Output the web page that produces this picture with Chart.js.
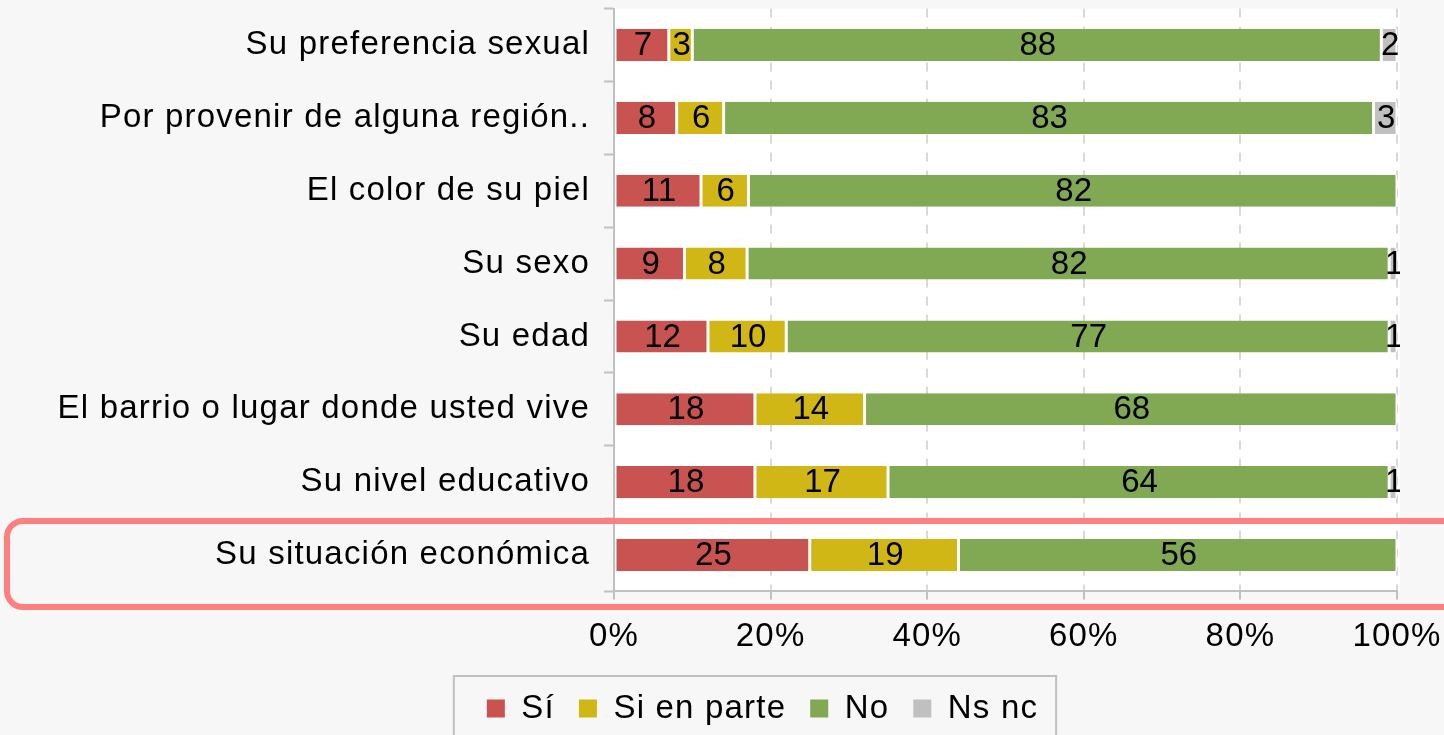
<!DOCTYPE html>
<html>
<head>
<meta charset="utf-8">
<script src="https://cdn.jsdelivr.net/npm/chart.js@4/dist/chart.umd.min.js"></script>
<style>
  html, body { margin: 0; padding: 0; background: #f7f7f7; }
  canvas { display: block; }
</style>
</head>
<body>
<canvas id="chart" width="1444" height="735"></canvas>
<script>
// data
var categories = [
  "Su preferencia sexual",
  "Por provenir de alguna región..",
  "El color de su piel",
  "Su sexo",
  "Su edad",
  "El barrio o lugar donde usted vive",
  "Su nivel educativo",
  "Su situación económica"
];
var seriesNames = ["Sí", "Si en parte", "No", "Ns nc"];
var si        = [7, 8, 11, 9, 12, 18, 18, 25];
var siEnParte = [3, 6, 6, 8, 10, 14, 17, 19];
var no        = [88, 83, 82, 82, 77, 68, 64, 56];
var nsnc      = [2, 3, 0, 1, 1, 0, 1, 0];
var xTicks = [0, 20, 40, 60, 80, 100];

var colors = ['#c95350', '#d1b716', '#81a852', '#c0c0c0'];
var FONT = '"Liberation Sans", Arial, sans-serif';
var FSIZE = 33;
var SPACING = '1.2px';

// 100% stacked: each row scaled to its own total
var series = [si, siEnParte, no, nsnc];
var totals = categories.map(function(c, j) {
  return si[j] + siEnParte[j] + no[j] + nsnc[j];
});

var datasets = series.map(function(vals, i) {
  return {
    label: seriesNames[i],
    data: vals.map(function(v, j) { return v / totals[j] * 100; }),
    rawValues: vals,
    backgroundColor: colors[i],
    borderColor: '#ffffff',
    borderWidth: { left: 1.5, right: 1.5, top: 0, bottom: 0 },
    borderSkipped: false,
    barPercentage: 0.44,
    categoryPercentage: 1
  };
});

var spacingPlugin = {
  id: 'spacing',
  beforeLayout: function(chart) { chart.ctx.letterSpacing = SPACING; },
  afterLayout: function(chart) {
    // legend sits a bit right of centre in the original
    chart.legend.left += 64;
    chart.legend.right += 64;
  },
  beforeDraw: function(chart) { chart.ctx.letterSpacing = SPACING; }
};

var backgroundPlugin = {
  id: 'bg',
  beforeDraw: function(chart) {
    var ctx = chart.ctx, a = chart.chartArea;
    ctx.save();
    ctx.fillStyle = '#f7f7f7';
    ctx.fillRect(0, 0, chart.width, chart.height);
    ctx.fillStyle = '#ffffff';
    ctx.fillRect(a.left, a.top, a.right - a.left + 3, a.bottom - a.top);
    ctx.restore();
  }
};

var segmentLabels = {
  id: 'segmentLabels',
  afterDatasetsDraw: function(chart) {
    var ctx = chart.ctx, a = chart.chartArea;
    ctx.save();
    ctx.beginPath();
    ctx.rect(a.left, a.top, a.right - a.left + 3, a.bottom - a.top);
    ctx.clip();
    ctx.letterSpacing = '0px';
    ctx.font = FSIZE + 'px ' + FONT;
    ctx.fillStyle = '#000';
    ctx.textAlign = 'center';
    ctx.textBaseline = 'middle';
    chart.data.datasets.forEach(function(ds, i) {
      chart.getDatasetMeta(i).data.forEach(function(bar, j) {
        var v = ds.rawValues[j];
        if (!v) return;
        ctx.fillText(String(v), (bar.x + bar.base) / 2 + 1, bar.y + 1);
      });
    });
    ctx.restore();
  }
};

var framePlugin = {
  id: 'frames',
  afterDraw: function(chart) {
    var ctx = chart.ctx;
    ctx.save();
    // legend frame
    var boxes = chart.legend.legendHitBoxes;
    if (boxes && boxes.length) {
      var l = Math.min.apply(null, boxes.map(function(b) { return b.left; }));
      var r = Math.max.apply(null, boxes.map(function(b) { return b.left + b.width; }));
      var t = boxes[0].top;
      ctx.strokeStyle = '#c0c0c0';
      ctx.lineWidth = 2;
      ctx.strokeRect(l - 33, t - 16, r - l + 51, 120);
    }
    // highlight around the last row
    var y = chart.scales.y.getPixelForValue(categories.length - 1);
    ctx.strokeStyle = '#ff7f7f';
    ctx.lineWidth = 6;
    ctx.beginPath();
    ctx.roundRect(7, y - 34, 1460, 86, 16);
    ctx.stroke();
    ctx.restore();
  }
};

new Chart(document.getElementById('chart'), {
  type: 'bar',
  data: { labels: categories, datasets: datasets },
  options: {
    indexAxis: 'y',
    responsive: false,
    animation: false,
    layout: { padding: { top: 8.6, right: 47, left: 0, bottom: 0 } },
    plugins: {
      tooltip: { enabled: false },
      legend: {
        position: 'bottom',
        labels: {
          color: '#000',
          font: { family: FONT, size: FSIZE },
          boxWidth: 18,
          boxHeight: 18,
          padding: 24,
          generateLabels: function(chart) {
            return chart.data.datasets.map(function(ds, i) {
              return { text: ds.label, fillStyle: ds.backgroundColor, strokeStyle: ds.backgroundColor,
                       lineWidth: 0, datasetIndex: i, hidden: false };
            });
          }
        }
      }
    },
    scales: {
      x: {
        stacked: true,
        min: 0,
        max: 100,
        afterBuildTicks: function(scale) {
          scale.ticks = xTicks.map(function(v) { return { value: v }; });
        },
        afterFit: function(scale) {
          scale.height = 76.6;
          scale.paddingLeft = 0;
          scale.paddingRight = 0;
        },
        ticks: {
          color: '#000',
          font: { family: FONT, size: FSIZE },
          padding: 18,
          maxRotation: 0,
          callback: function(v) { return v + '%'; }
        },
        grid: { color: '#d9d9d9', lineWidth: 2, tickColor: '#c0c0c0', tickLength: 8, tickWidth: 2, tickBorderDash: [] },
        border: { color: '#c0c0c0', width: 2, dash: [9, 9] }
      },
      y: {
        stacked: true,
        afterFit: function(scale) {
          scale.width = 614;
          scale.paddingTop = 0;
          scale.paddingBottom = 0;
        },
        ticks: {
          color: '#000',
          font: { family: FONT, size: FSIZE },
          padding: 14
        },
        grid: { offset: true, drawOnChartArea: false, tickLength: 10, tickColor: '#c0c0c0', tickWidth: 2 },
        border: { color: '#c0c0c0', width: 2 }
      }
    }
  },
  plugins: [spacingPlugin, backgroundPlugin, segmentLabels, framePlugin]
});
</script>
</body>
</html>
